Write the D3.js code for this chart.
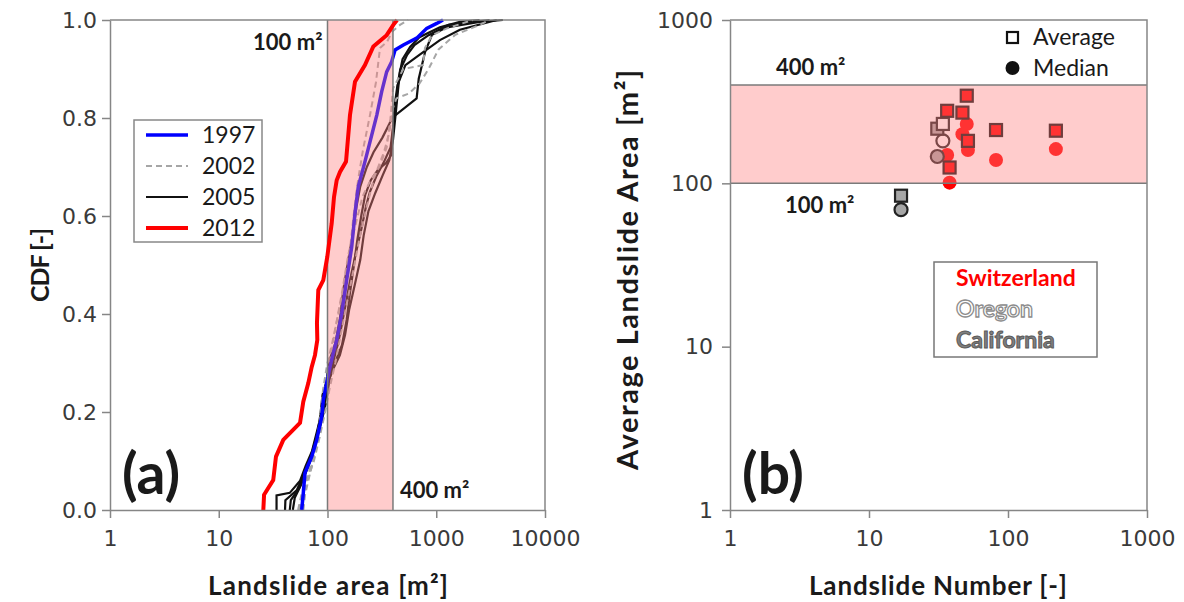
<!DOCTYPE html>
<html><head><meta charset="utf-8">
<script src="https://cdn.jsdelivr.net/npm/d3@7"></script>
<style>body{margin:0;background:#fff}svg{display:block}</style>
</head><body>
<svg id="c" width="1184" height="602"></svg>
<script>
// ---------- Data: panel (a) CDF of landslide area ----------
const areaTicks = [1, 10, 100, 1000, 10000];
const cdfTicks = [0, 0.2, 0.4, 0.6, 0.8, 1.0];
const bandAreas = [100, 400];
const legendYears = ["1997", "2002", "2005", "2012"];

const curve1997 = [[57.9,0],[59.5,0.027],[62.1,0.076],[71.6,0.109],[79.6,0.143],[88.4,0.19],[91.5,0.224],[99.6,0.265],[105.4,0.292],[113,0.32],[121.5,0.347],[135,0.401],[150,0.469],[167,0.537],[179,0.606],[192,0.66],[221,0.711],[255,0.765],[284,0.806],[315,0.854],[350,0.894],[389,0.915],[418,0.939],[498,0.949],[661,0.963],[817,0.983],[1010,0.993],[1153,1.0]];

const curves2002 = [
  [[53.6,0],[58.3,0.037],[67.6,0.078],[78.4,0.131],[85.3,0.184],[90.9,0.245],[99,0.296],[112,0.347],[128,0.408],[145,0.469],[161,0.531],[172,0.592],[183,0.643],[191,0.673],[212,0.735],[246,0.806],[279,0.873],[304,0.943],[352,0.955],[392,0.976],[464,0.99],[550,1.0]],
  [[60,0],[62,0.03],[70,0.08],[80,0.14],[88,0.2],[95,0.25],[105,0.3],[118,0.37],[135,0.44],[155,0.52],[180,0.58],[210,0.64],[245,0.67],[300,0.7],[350,0.74],[380,0.8],[400,0.86],[498,0.9],[755,0.908],[788,0.943],[914,0.969],[1256,0.983],[2177,1.0]],
  [[55,0],[58,0.02],[65,0.06],[75,0.1],[85,0.15],[95,0.2],[105,0.25],[118,0.3],[133,0.36],[150,0.42],[170,0.48],[195,0.55],[230,0.62],[270,0.68],[330,0.73],[370,0.77],[400,0.82],[430,0.84],[560,0.85],[700,0.87],[850,0.9],[1050,0.94],[1500,0.97],[2500,0.99],[3100,1.0]]
];

const curves2005 = [
  [[34,0],[34,0.03],[45,0.035],[56,0.06],[63,0.09],[72,0.12],[82,0.17],[90,0.2],[97,0.23],[100,0.28],[106,0.31],[118,0.34],[130,0.39],[140,0.45],[155,0.51],[170,0.56],[185,0.62],[200,0.66],[230,0.7],[265,0.73],[320,0.76],[365,0.785],[392,0.8],[660,0.84],[690,0.88],[790,0.935],[915,0.97],[1250,0.985],[2500,0.996],[4100,1.0]],
  [[40.7,0],[41,0.02],[52,0.04],[60,0.07],[69,0.1],[78,0.14],[88,0.18],[97,0.22],[105,0.27],[115,0.31],[125,0.34],[136,0.38],[150,0.43],[165,0.48],[185,0.53],[208,0.58],[226,0.62],[246,0.65],[280,0.68],[330,0.71],[380,0.74],[400,0.78],[427,0.83],[450,0.88],[490,0.92],[575,0.945],[700,0.965],[1080,0.985],[1650,0.996],[2500,1.0]],
  [[45,0],[46,0.02],[55,0.045],[64,0.08],[72,0.11],[80,0.15],[86,0.18],[92,0.224],[99,0.255],[112,0.286],[130,0.316],[145,0.357],[158,0.408],[178,0.459],[200,0.51],[215,0.56],[238,0.61],[275,0.647],[320,0.682],[370,0.714],[400,0.755],[427,0.816],[445,0.857],[465,0.898],[540,0.929],[630,0.949],[850,0.969],[1300,0.99],[3100,1.0]],
  [[48,0],[50,0.025],[57,0.051],[65,0.086],[73,0.122],[81,0.159],[86,0.194],[90,0.235],[100,0.269],[118,0.302],[136,0.337],[150,0.388],[160,0.439],[175,0.5],[188,0.551],[205,0.602],[222,0.643],[250,0.673],[290,0.694],[345,0.708],[385,0.724],[400,0.776],[415,0.827],[440,0.867],[520,0.908],[700,0.929],[1080,0.959],[1650,0.98],[3600,1.0]]
];

const curve2012 = [[25.7,0],[26.1,0.031],[31.7,0.061],[33.6,0.109],[39.2,0.143],[55.9,0.178],[59.9,0.221],[66.6,0.259],[71.6,0.292],[76.7,0.316],[80.6,0.347],[80,0.382],[82.3,0.449],[91.5,0.469],[99.6,0.517],[109.3,0.585],[114.8,0.639],[121.5,0.673],[130.3,0.69],[148,0.711],[161,0.806],[179,0.874],[221,0.908],[264,0.946],[350,0.969],[403,0.99],[436,1.0]];

// ---------- Data: panel (b) average / median landslide area ----------
const numberTicks = [1, 10, 100, 1000];
const avgAreaTicks = [1, 10, 100, 1000];
const swissNumber = [36.5, 38, 47, 50.5, 51.5, 82, 221];
const swissAverage = [278, 125, 271, 344, 182, 212, 210];
const swissMedian = [149, 101, 200, 231, 160, 139, 162];
const oregonNumber = [34];
const oregonAverage = [231];
const oregonMedian = [182];
const californiaNumber = [17, 31];
const californiaAverage = [84, 216];
const californiaMedian = [69, 146];
const regions = ["Switzerland", "Oregon", "California"];

// ---------- Drawing ----------
const svg = d3.select("#c");
const TICKFONT = "'DejaVu Sans', sans-serif";
const FONT = "Lato, 'Open Sans', sans-serif";
const AX = "#868686";

// Panel (a)
const xa = d3.scaleLog().domain([1, 10000]).range([110, 545]);
const ya = d3.scaleLinear().domain([0, 1]).range([510, 20]);
const ga = svg.append("g");
const lineA = d3.line().x(d => xa(d[0])).y(d => ya(d[1]));

curves2005.forEach(c => ga.append("path").attr("d", lineA(c)).attr("fill","none").attr("stroke","#111").attr("stroke-width",2.2));
curves2002.forEach(c => ga.append("path").attr("d", lineA(c)).attr("fill","none").attr("stroke","#a6a6a6").attr("stroke-width",2).attr("stroke-dasharray","6,4"));
ga.append("path").attr("d", lineA(curve1997)).attr("fill","none").attr("stroke","#0000ff").attr("stroke-width",3.5);

// band (translucent, on top)
ga.append("rect").attr("x", xa(bandAreas[0])).attr("y", ya(1)).attr("width", xa(bandAreas[1]) - xa(bandAreas[0])).attr("height", ya(0) - ya(1)).attr("fill","#ff8080").attr("fill-opacity",0.4);
bandAreas.forEach(v => ga.append("line").attr("x1", xa(v)).attr("x2", xa(v)).attr("y1", ya(0)).attr("y2", ya(1)).attr("stroke","#7a7a7a").attr("stroke-width",1.5));

ga.append("path").attr("d", lineA(curve2012)).attr("fill","none").attr("stroke","#ff0000").attr("stroke-width",4);

// frame
ga.append("path").attr("d", `M${xa(1)},${ya(1)}H${xa(10000)}V${ya(0)}`).attr("fill","none").attr("stroke",AX).attr("stroke-width",1.5);

ga.append("g").attr("transform", `translate(0,${ya(0)})`)
  .call(d3.axisBottom(xa).tickValues(areaTicks).tickFormat(d3.format("d")).tickSize(8).tickSizeOuter(0).tickPadding(12));
ga.append("g").attr("transform", `translate(${xa(1)},0)`)
  .call(d3.axisLeft(ya).tickValues(cdfTicks).tickFormat(d3.format(".1f")).tickSize(8).tickSizeOuter(0).tickPadding(5));

// Panel (b)
const xb = d3.scaleLog().domain([1, 1000]).range([730, 1147]);
const yb = d3.scaleLog().domain([1, 1000]).range([510, 20]);
const gb = svg.append("g");

function squares(ns, vs, fill, stroke) {
  gb.selectAll(null).data(d3.zip(ns, vs)).enter().append("rect")
    .attr("x", d => xb(d[0]) - 6).attr("y", d => yb(d[1]) - 6).attr("width", 12).attr("height", 12)
    .attr("fill", fill).attr("stroke", stroke).attr("stroke-width", 2.2);
}
function circles(ns, vs, fill, stroke) {
  gb.selectAll(null).data(d3.zip(ns, vs)).enter().append("circle")
    .attr("cx", d => xb(d[0])).attr("cy", d => yb(d[1])).attr("r", stroke ? 6.5 : 7)
    .attr("fill", fill).attr("stroke", stroke || "none").attr("stroke-width", 2.2);
}
circles(swissNumber, swissMedian, "#ff0000", null);
circles(californiaNumber, californiaMedian, "#a6a6a6", "#222");
circles(oregonNumber, oregonMedian, "#ffffff", "#222");
squares(californiaNumber, californiaAverage, "#a6a6a6", "#222");
squares(oregonNumber, oregonAverage, "#ffffff", "#222");
squares(swissNumber, swissAverage, "#ff0000", "#111");

gb.append("rect").attr("x", xb(1)).attr("y", yb(400)).attr("width", xb(1000) - xb(1)).attr("height", yb(100) - yb(400)).attr("fill","#ff8080").attr("fill-opacity",0.4);
[100, 400].forEach(v => gb.append("line").attr("x1", xb(1)).attr("x2", xb(1000)).attr("y1", yb(v)).attr("y2", yb(v)).attr("stroke","#7a7a7a").attr("stroke-width",1.5));

gb.append("path").attr("d", `M${xb(1)},${yb(1000)}H${xb(1000)}V${yb(1)}`).attr("fill","none").attr("stroke",AX).attr("stroke-width",1.5);

gb.append("g").attr("transform", `translate(0,${yb(1)})`)
  .call(d3.axisBottom(xb).tickValues(numberTicks).tickFormat(d3.format("d")).tickSize(8).tickSizeOuter(0).tickPadding(12));
gb.append("g").attr("transform", `translate(${xb(1)},0)`)
  .call(d3.axisLeft(yb).tickValues(avgAreaTicks).tickFormat(d3.format("d")).tickSize(8).tickSizeOuter(0).tickPadding(9));

// axis styling
svg.selectAll(".domain, .tick line").attr("stroke", AX).attr("stroke-width", 1.5);
svg.selectAll(".tick text").attr("font-family", TICKFONT).attr("font-size", 22).attr("fill", "#3a3a3a");

// ---------- Texts ----------
function txt(x, y, s, opts) {
  const t = svg.append("text").attr("x", x).attr("y", y).text(s)
    .attr("font-family", opts.family || FONT).attr("font-size", opts.size || 20).attr("font-weight", opts.weight || "bold")
    .attr("fill", opts.fill || "#1a1a1a").attr("text-anchor", opts.anchor || "start");
  if (opts.rotate) t.attr("transform", `rotate(-90,${x},${y})`);
  if (opts.stroke) t.attr("stroke", opts.stroke).attr("stroke-width", opts.sw || 1);
  if (opts.len) t.attr("textLength", opts.len).attr("lengthAdjust", "spacing");
  return t;
}
txt(328, 595, "Landslide area [m²]", {size: 26, anchor: "middle", len: 240});
txt(938, 595, "Landslide Number [-]", {size: 26, anchor: "middle", len: 258});
txt(49, 265, "CDF [-]", {size: 25, anchor: "middle", rotate: true, len: 74});
txt(638, 270, "Average Landslide Area [m²]", {size: 29, anchor: "middle", rotate: true, len: 400});

txt(xa(100) - 5, 50, "100 m²", {size: 22, anchor: "end"});
txt(xa(400) + 7, 498, "400 m²", {size: 22});
txt(776, 75, "400 m²", {size: 22});
txt(785, 213, "100 m²", {size: 22});
txt(122, 494, "(a)", {size: 57});
txt(742, 494, "(b)", {size: 57});

// legend (a)
const lgA = svg.append("g");
lgA.append("rect").attr("x",134).attr("y",120).attr("width",128).attr("height",122).attr("fill","#fff").attr("stroke","#888").attr("stroke-width",1.5);
const lgStyles = [
  {stroke:"#0000ff", w:3.5, dash:null},
  {stroke:"#a6a6a6", w:2, dash:"6,4"},
  {stroke:"#111", w:2.2, dash:null},
  {stroke:"#ff0000", w:4, dash:null}
];
legendYears.forEach((yr, i) => {
  const y = 135 + i * 31;
  lgA.append("line").attr("x1",146).attr("x2",188).attr("y1",y).attr("y2",y)
    .attr("stroke", lgStyles[i].stroke).attr("stroke-width", lgStyles[i].w).attr("stroke-dasharray", lgStyles[i].dash);
  txt(202, y + 8, yr, {size: 23, weight: "normal"});
});

// legend (b) markers
svg.append("rect").attr("x",1007).attr("y",32).attr("width",11).attr("height",11).attr("fill","#fff").attr("stroke","#111").attr("stroke-width",2.2);
svg.append("circle").attr("cx",1012.5).attr("cy",68).attr("r",7).attr("fill","#111");
txt(1033, 45, "Average", {size: 23, weight: "normal"});
txt(1033, 76, "Median", {size: 23, weight: "normal"});

// legend (b) regions
svg.append("rect").attr("x",934).attr("y",262).attr("width",163).attr("height",95).attr("fill","#fff").attr("stroke","#777").attr("stroke-width",1.5);
txt(956, 286, regions[0], {size: 23, fill: "#ff0000"});
txt(956, 317, regions[1], {size: 23, fill: "#ffffff", stroke: "#8c8c8c", sw: 1.3});
txt(956, 348, regions[2], {size: 23, fill: "#808080", stroke: "#5a5a5a", sw: 1});
</script>
</body></html>
